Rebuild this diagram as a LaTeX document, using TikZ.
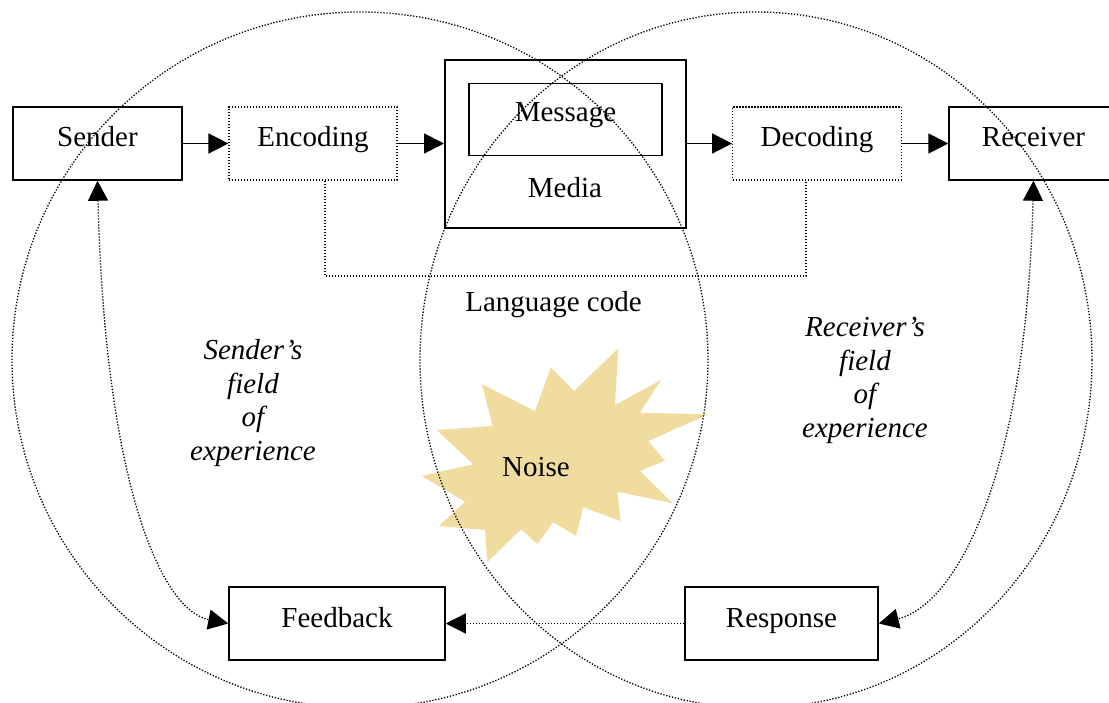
\documentclass[tikz,border=0pt]{standalone}
\usepackage{fontspec}
\setmainfont{Liberation Serif}
\usetikzlibrary{arrows.meta}
\definecolor{noisetan}{RGB}{241,220,160}
\tikzset{
  box/.style={draw, line width=1.5pt, inner sep=0pt, text height=20pt, text depth=13pt, minimum height=73pt},
  dotbox/.style={box, line width=1.3pt, dash pattern=on 1.3pt off 1.7pt},
  dotline/.style={line width=1.3pt, dash pattern=on 1.3pt off 1.7pt},
  flow/.style={line width=1.8pt, -{Triangle[length=20pt,width=20pt]}},
  dflow/.style={dotline, -{Triangle[length=20pt,width=20pt]}},
  bothflow/.style={dotline, {Triangle[length=20pt,width=20pt]}-{Triangle[length=20pt,width=20pt]}},
  field/.style={align=center, font=\fontsize{29}{33.5}\selectfont\itshape, anchor=base},
  lbl/.style={anchor=base, inner sep=0pt}
}
\begin{document}
\begin{tikzpicture}[x=1pt, y=-1pt, font=\fontsize{29}{33.5}\selectfont]
\useasboundingbox (0,0) rectangle (1109,703);

% noise burst
\fill[noisetan] (618.3,348.3) -- (615,405) -- (661,380) -- (640,412.7) -- (708.3,414.3)
  -- (648.3,441) -- (665,460.7) -- (640,471) -- (672.7,503.3) -- (617.3,491.7)
  -- (620.7,521) -- (583.3,507.3) -- (576,535.7) -- (553.3,522.3) -- (537.3,544)
  -- (521,529.3) -- (487.3,562.3) -- (485,530) -- (439,526) -- (465,501.7)
  -- (421.7,476) -- (473.3,464.3) -- (436.7,430) -- (492.7,426) -- (481.7,384)
  -- (535,411) -- (551,367.3) -- (574,391) -- cycle;
\node[lbl] (noise) at (536,476) {Noise};

% fields of experience
\draw[dotline] (360,360) circle[radius=348pt];
\draw[dotline] (756,360) ellipse[x radius=336pt, y radius=348pt];

% boxes
\node[box, minimum width=169pt] (sender) at (97.5,143.5) {Sender};
\node[dotbox, minimum width=168pt] (encoding) at (313,143.5) {Encoding};
\node[box, line width=2pt, minimum width=241pt, minimum height=168pt] (media) at (565.5,144) {};
\node[box, minimum width=193pt, minimum height=72pt, text depth=16pt] (message) at (565.5,119.5) {Message};
\node[lbl] (medialabel) at (565,198) {Media};
\node[dotbox, minimum width=168.5pt] (decoding) at (817,143.5) {Decoding};
\node[box, minimum width=169pt] (receiver) at (1033.5,143.5) {Receiver};
\node[box, minimum width=216pt] (feedback) at (337,623.5) {Feedback};
\node[box, minimum width=193pt] (response) at (781.5,623.5) {Response};

% main flow
\draw[flow] (sender.east) -- (encoding.west);
\draw[flow] (encoding.east) -- (encoding.east -| media.west);
\draw[flow] (decoding.west -| media.east) -- (decoding.west);
\draw[flow] (decoding.east) -- (receiver.west);

% language code
\coordinate (lc) at (0,276);
\draw[dotline] ([xshift=12pt]encoding.south) -- ([xshift=12pt]encoding.south |- lc)
  -- ([xshift=-11pt]decoding.south |- lc) -- ([xshift=-11pt]decoding.south);
\node[lbl] (langcode) at (553.5,312) {Language code};

% feedback loop
\draw[dflow] (response.west) -- (feedback.east);
\draw[bothflow] (sender.south) .. controls (105,480) and (160,610) .. (feedback.west);
\draw[bothflow] (receiver.south) .. controls (1026,480) and (955,605) .. (response.east);

% field labels (anchor base = last line's baseline)
\node[field] (sfield) at (253,460) {Sender’s\\field\\of\\experience};
\node[field] (rfield) at (865,437) {Receiver’s\\field\\of\\experience};
\end{tikzpicture}
\end{document}
